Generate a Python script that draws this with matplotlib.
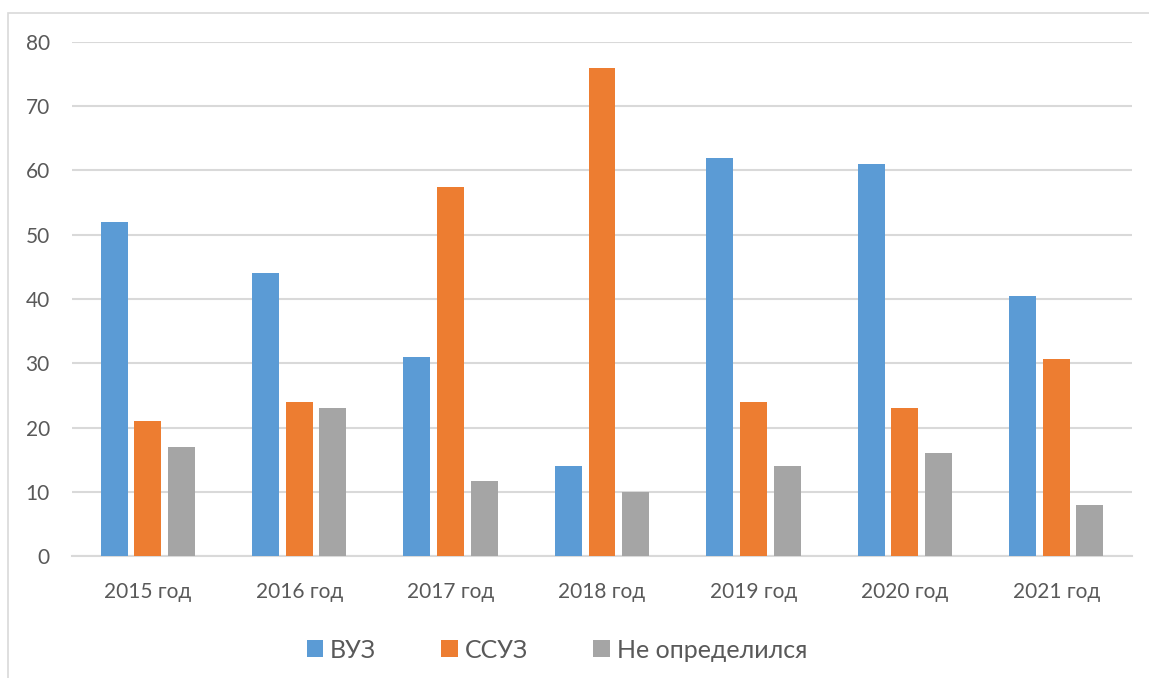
import numpy as np
import matplotlib
matplotlib.use('Agg')
import matplotlib.pyplot as plt
from matplotlib.patches import Rectangle

plt.rcParams['font.family'] = ['Lato', 'Noto Sans', 'DejaVu Sans']

years = ['2015 год', '2016 год', '2017 год', '2018 год', '2019 год', '2020 год', '2021 год']
vuz = [52, 44, 30.9, 14, 62, 61, 40.5]
ssuz = [21, 24, 57.4, 76, 24, 23, 30.6]
undecided = [17, 23, 11.7, 10, 14, 16, 8]
series_names = ['ВУЗ', 'ССУЗ', 'Не определился']
colors = ['#5B9BD5', '#ED7D31', '#A5A5A5']
text_color = '#595959'

fig = plt.figure(figsize=(11.49, 6.78), dpi=100)
W, H = 1149, 678
ax = fig.add_axes([72 / W, (H - 556) / H, (1132 - 72) / W, (556 - 42) / H])

# chart border
fig.patches.append(Rectangle((8 / W, -0.1), 1.2, (H - 13) / H + 0.1, transform=fig.transFigure,
                             fill=False, edgecolor='#d9d9d9', linewidth=1.2))

x = np.arange(len(years))
width = 0.178
step = 0.222
for i, (vals, name, c) in enumerate(zip([vuz, ssuz, undecided], series_names, colors)):
    ax.bar(x + (i - 1) * step, vals, width, color=c, label=name, zorder=3)

ax.set_xlim(-0.5, len(years) - 0.5)
ax.set_ylim(0, 80)
ax.set_yticks(range(0, 81, 10))
ax.set_xticks(x)
ax.set_xticklabels(years)
ax.yaxis.grid(True, color='#d9d9d9', linewidth=1.5, zorder=0)
ax.set_axisbelow(True)
for s in ['top', 'right', 'left']:
    ax.spines[s].set_visible(False)
ax.spines['bottom'].set_color('#d9d9d9')
ax.spines['bottom'].set_linewidth(1.5)
ax.tick_params(axis='both', length=0, labelsize=15, labelcolor=text_color)
ax.tick_params(axis='y', pad=16)
ax.tick_params(axis='x', pad=19)

leg = fig.legend(loc='center', bbox_to_anchor=(557 / W, (H - 650) / H), ncol=3, frameon=False,
                 fontsize=18, handlelength=0.65, handleheight=0.65, columnspacing=2.6,
                 handletextpad=0.3)
for t in leg.get_texts():
    t.set_color(text_color)

fig.savefig('out.png', dpi=100)
